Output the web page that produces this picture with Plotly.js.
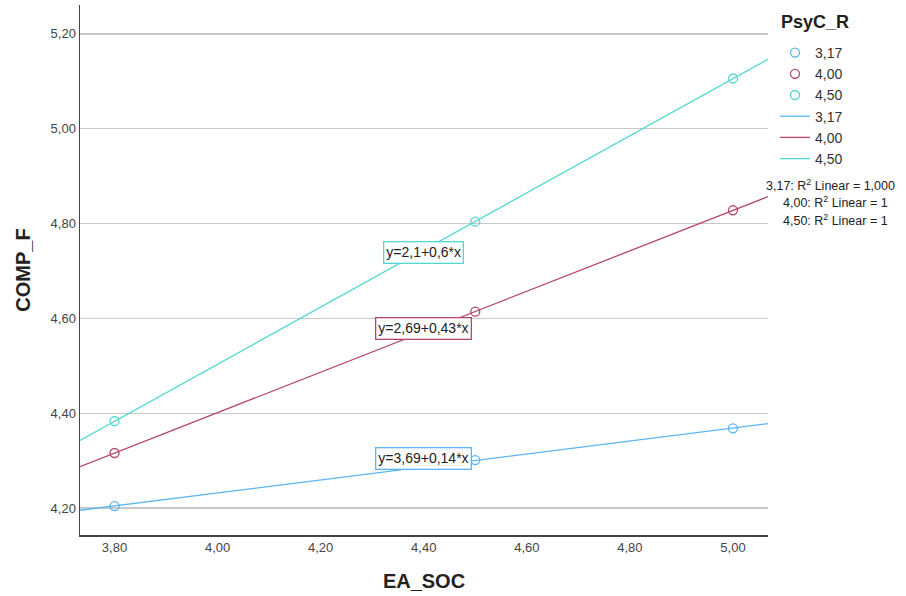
<!DOCTYPE html>
<html><head><meta charset="utf-8">
<script src="https://cdn.plot.ly/plotly-3.0.1.min.js"></script>
<style>body{margin:0;background:#fff}#c{width:906px;height:596px}</style>
</head><body><div id="c"></div>
<script>
const groups = ["3,17", "4,00", "4,50"];
const xVals = [3.8, 4.5, 5.0];
const y317 = [4.204, 4.301, 4.368];
const y400 = [4.316, 4.614, 4.828];
const y450 = [4.383, 4.804, 5.106];
const equations = ["y=3,69+0,14*x", "y=2,69+0,43*x", "y=2,1+0,6*x"];
const labelX = [4.40, 4.40, 4.40];
const labelY = [4.305, 4.579, 4.739];
const legendTitle = "PsyC_R";
const r2Text = ["3,17: R<sup>2</sup> Linear = 1,000", "4,00: R<sup>2</sup> Linear = 1", "4,50: R<sup>2</sup> Linear = 1"];
const colors = ["#5ab6f2", "#b4476e", "#52d8d2"];
const xRange = [3.733, 5.068];
const yRange = [4.143, 5.261];

const W = 906, H = 596, L = 80, R = 138, T = 5, B = 61;
const pw = W - L - R, ph = H - T - B;
const px = v => (v - L) / pw;
const py = v => 1 - (v - T) / ph;

const ys = [y317, y400, y450];
function fit(x, y) {
  const n = x.length, mx = x.reduce((a,b)=>a+b)/n, my = y.reduce((a,b)=>a+b)/n;
  let sxy = 0, sxx = 0;
  for (let i=0;i<n;i++){ sxy += (x[i]-mx)*(y[i]-my); sxx += (x[i]-mx)**2; }
  const b = sxy/sxx; return [my - b*mx, b];
}
const traces = [];
groups.forEach((g,i)=>{
  traces.push({x:xVals, y:ys[i], mode:'markers', type:'scatter', name:g,
    marker:{symbol:'circle-open', size:9, color:colors[i], line:{width:1.3, color:colors[i]}}});
});
groups.forEach((g,i)=>{
  const [a,b] = fit(xVals, ys[i]);
  traces.push({x:xRange, y:xRange.map(v=>a+b*v), mode:'lines', type:'scatter', name:g,
    line:{color:colors[i], width:1.3}});
});
const annotations = [];
groups.forEach((g,i)=>{
  annotations.push({x:labelX[i], y:labelY[i], xref:'x', yref:'y', text:equations[i], showarrow:false,
    font:{family:'Liberation Sans, Arial', size:14, color:'#222'}, bgcolor:'#fff',
    bordercolor:colors[i], borderwidth:1.3, borderpad:2});
});
annotations.push({x:px(779), y:py(22), xref:'paper', yref:'paper', xanchor:'left', yanchor:'middle',
  text:'<b>'+legendTitle+'</b>', showarrow:false, font:{family:'Liberation Sans, Arial', size:18, color:'#222'}});
const r2x = [764, 781, 781];
r2Text.forEach((t,i)=>{
  annotations.push({x:px(r2x[i]), y:py(185+i*17.5), xref:'paper', yref:'paper', xanchor:'left', yanchor:'middle',
    text:t, showarrow:false, font:{family:'Liberation Sans, Arial', size:12.5, color:'#222'}});
});
const layout = {
  width:W, height:H, separators:',.',
  margin:{l:L, r:R, t:T, b:B},
  paper_bgcolor:'#fff', plot_bgcolor:'#fff',
  font:{family:'Liberation Sans, Arial', color:'#444'},
  xaxis:{range:xRange, tickvals:[3.8,4.0,4.2,4.4,4.6,4.8,5.0], tickformat:'.2f', showgrid:false, zeroline:false,
    showline:true, linecolor:'#444', linewidth:1.5, ticks:'', tickfont:{size:13, color:'#444'},
    title:{text:'<b>EA_SOC</b>', font:{size:20, color:'#222'}, standoff:20}},
  yaxis:{range:yRange, tickvals:[4.2,4.4,4.6,4.8,5.0,5.2], tickformat:'.2f', showgrid:true, gridcolor:'#c8c8c8', gridwidth:1.2,
    zeroline:false, showline:true, linecolor:'#444', linewidth:1.5, ticks:'', tickfont:{size:13, color:'#444'},
    title:{text:'<b>COMP_F</b>', font:{size:20, color:'#222'}, standoff:14}},
  showlegend:true,
  legend:{x:px(775), y:py(37), xanchor:'left', yanchor:'top', tracegroupgap:0, itemwidth:30,
    bgcolor:'rgba(0,0,0,0)', font:{size:14, color:'#333'}},
  annotations:annotations
};
Plotly.newPlot('c', traces, layout, {displayModeBar:false, staticPlot:true});
</script></body></html>
